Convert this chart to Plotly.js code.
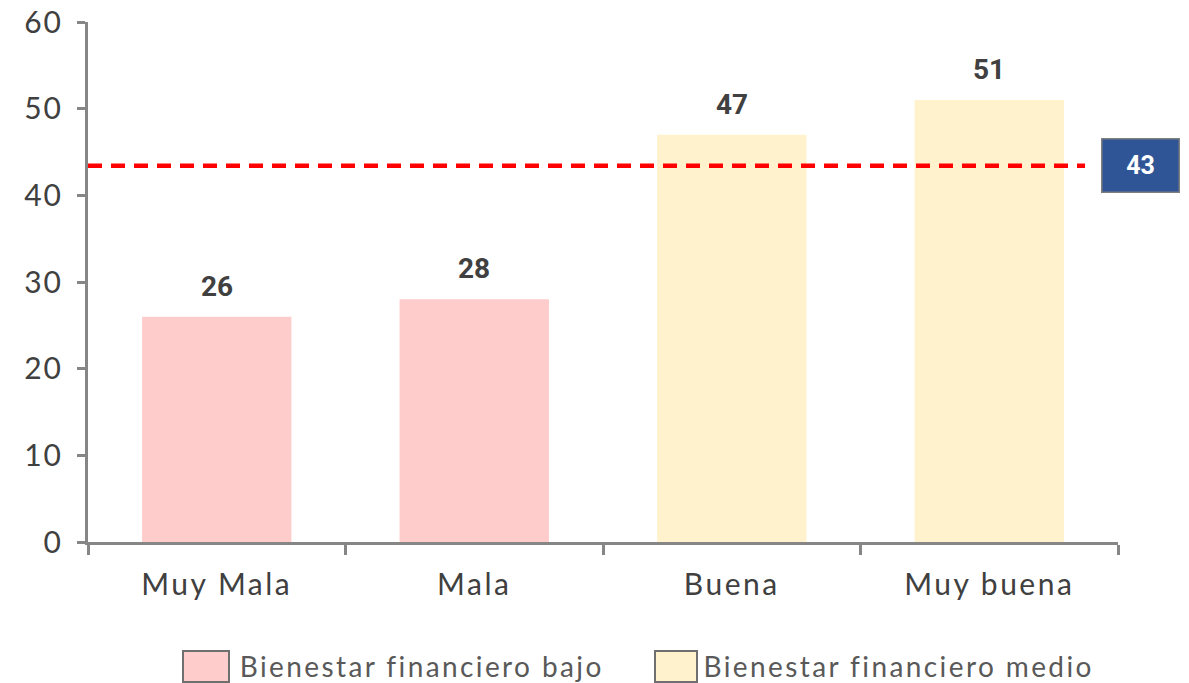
<!DOCTYPE html>
<html>
<head>
<meta charset="utf-8">
<script src="https://cdn.plot.ly/plotly-3.0.1.min.js"></script>
<style>
html,body{margin:0;padding:0;background:#fff;}
#chart{width:1189px;height:683px;}
#chart .xtick text{letter-spacing:2.5px;}
#chart .ytick text{letter-spacing:2px;}
#chart .annotation[data-index="5"] text,
#chart .annotation[data-index="6"] text{letter-spacing:2.4px;}
</style>
</head>
<body>
<div id="chart"></div>
<script>
const categories = ["Muy Mala", "Mala", "Buena", "Muy buena"];
const lowCats = ["Muy Mala", "Mala"];
const lowValues = [26, 28];
const midCats = ["Buena", "Muy buena"];
const midValues = [47, 51];
const seriesNames = ["Bienestar financiero bajo", "Bienestar financiero medio"];
const averageValue = 43.4;
const averageLabel = "43";
const yTicks = [0, 10, 20, 30, 40, 50, 60];

const FONT = "Lato, 'Open Sans', sans-serif";
const lowColor = "#FFCCCC";
const midColor = "#FFF2CC";

const traces = [
  {type: "bar", name: seriesNames[0], x: lowCats, y: lowValues, width: 0.58,
   marker: {color: lowColor}, showlegend: false, hoverinfo: "x+y"},
  {type: "bar", name: seriesNames[1], x: midCats, y: midValues, width: 0.58,
   marker: {color: midColor}, showlegend: false, hoverinfo: "x+y"}
];

const annotations = [];
lowCats.concat(midCats).forEach((c, i) => {
  const v = lowValues.concat(midValues)[i];
  annotations.push({x: c, y: v, xref: "x", yref: "y", text: "<b>" + v + "</b>",
    showarrow: false, yanchor: "bottom", yshift: 12,
    font: {family: "Roboto, 'Liberation Sans', sans-serif", size: 28, color: "#404040"}});
});
annotations.push({x: 1.0223, y: averageValue, xref: "paper", yref: "y",
  xanchor: "center", yanchor: "middle",
  text: "<b>" + averageLabel + "</b>", showarrow: false,
  bgcolor: "#2F5597", bordercolor: "#7F7F7F", borderwidth: 1.5,
  width: 74, height: 50, align: "center", valign: "middle",
  font: {family: "Roboto, 'Liberation Sans', sans-serif", size: 25, color: "#FFFFFF"}});

// legend (drawn manually for large swatches)
const legendItems = [
  {x0: 183, x1: 229, tx: 239, color: lowColor, text: seriesNames[0]},
  {x0: 655, x1: 697, tx: 704, color: midColor, text: seriesNames[1]}
];
const W = 1189, L = 88, R = 71, T = 22, B = 141;
const pw = W - L - R, ph = 683 - T - B;
const px = v => (v - L) / pw;
const py = v => (683 - B - v) / ph;
const shapes = [
  {type: "line", xref: "paper", yref: "y", x0: 0, x1: 0.968, y0: averageValue, y1: averageValue,
   line: {color: "#FF0000", width: 4.5, dash: "14px,9px"}}
];
legendItems.forEach(it => {
  shapes.push({type: "rect", xref: "paper", yref: "paper", x0: px(it.x0), x1: px(it.x1),
    y0: py(682), y1: py(651), fillcolor: it.color, line: {color: "#6F6F6F", width: 2}});
  annotations.push({x: px(it.tx), y: py(666), xref: "paper", yref: "paper", text: it.text,
    showarrow: false, xanchor: "left", yanchor: "middle", xshift: 29,
    font: {family: FONT, size: 28, color: "#595959"}});
});

const layout = {
  width: 1189, height: 683,
  margin: {l: L, r: R, t: T, b: B},
  paper_bgcolor: "#FFFFFF", plot_bgcolor: "#FFFFFF",
  barmode: "overlay",
  showlegend: false,
  xaxis: {type: "category", categoryorder: "array", categoryarray: categories,
    range: [-0.5, 3.5], showline: true, linecolor: "#868686", linewidth: 3,
    ticks: "outside", tickson: "boundaries", ticklen: 10, tickwidth: 3, tickcolor: "#868686",
    showgrid: false, zeroline: false, ticklabelstandoff: 14,
    tickfont: {family: FONT, size: 30, color: "#404040"}, fixedrange: true},
  yaxis: {range: [0, 60], tickvals: yTicks, showline: true, linecolor: "#868686", linewidth: 3,
    ticks: "outside", ticklen: 8, tickwidth: 3, tickcolor: "#868686",
    showgrid: false, zeroline: false, ticklabelstandoff: 8,
    tickfont: {family: FONT, size: 30, color: "#404040"}, fixedrange: true},
  shapes: shapes,
  annotations: annotations
};

Plotly.newPlot("chart", traces, layout, {displayModeBar: false, staticPlot: true});
</script>
</body>
</html>
